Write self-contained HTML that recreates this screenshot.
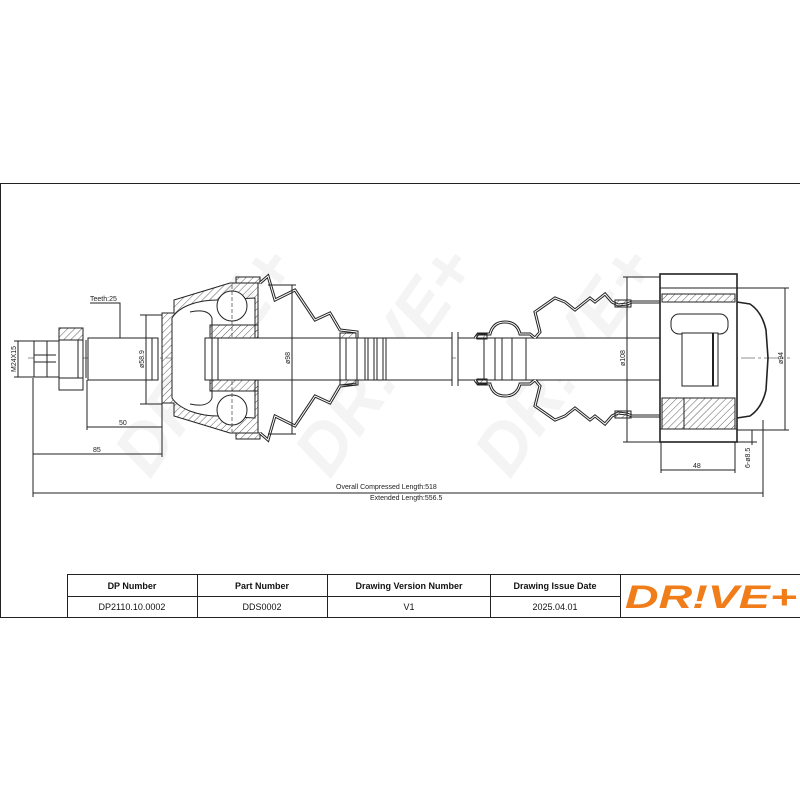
<!DOCTYPE html>
<html><head><meta charset="utf-8"><style>
body{margin:0;background:#fff;width:800px;height:800px;overflow:hidden;font-family:"Liberation Sans",sans-serif}
</style></head><body>
<svg width="800" height="800" viewBox="0 0 800 800" xmlns="http://www.w3.org/2000/svg">
<defs>
<pattern id="h" width="5" height="5" patternUnits="userSpaceOnUse" patternTransform="rotate(45)">
<line x1="0" y1="0" x2="0" y2="5" stroke="#333" stroke-width="0.8"/></pattern>
</defs>
<rect x="0.5" y="183.5" width="800" height="434" fill="#fff" stroke="#222" stroke-width="1"/>
<!-- watermarks -->
<g fill="#f4f4f4" font-size="70" font-weight="bold" font-style="italic">
<text transform="translate(150,480) rotate(-55)">DR!VE+</text>
<text transform="translate(330,480) rotate(-55)">DR!VE+</text>
<text transform="translate(510,480) rotate(-55)">DR!VE+</text>
</g>
<g stroke="#222" stroke-width="1" fill="none">
<line x1="28" y1="358" x2="790" y2="358" stroke-dasharray="14,3,3,3" stroke-width="0.6"/>
<rect x="34" y="341" width="13" height="36" fill="#fff"/>
<rect x="47" y="341" width="12" height="36" fill="#fff"/>
<line x1="34" y1="355" x2="56" y2="355"/><line x1="34" y1="362" x2="56" y2="362"/>
<rect x="59" y="328" width="24" height="12" fill="url(#h)"/>
<rect x="59" y="340" width="24" height="38" fill="#fff"/>
<rect x="59" y="378" width="24" height="12" fill="#fff"/>
<line x1="78" y1="340" x2="78" y2="378"/>
<line x1="86" y1="340" x2="86" y2="378"/>
<rect x="88" y="338" width="70" height="42" fill="#fff"/>
<line x1="152" y1="338" x2="152" y2="380"/>
<path d="M162,313 L174,313 L174,300 L230,283 L258,283 L258,433 L230,433 L174,416 L174,403 L162,403 Z" fill="url(#h)"/>
<path d="M172,318 C180,305 200,300 218,300 L255,298 L255,418 L218,416 C200,416 180,410 172,398 Z" fill="#fff"/>
<path d="M190,312 Q208,308 212,318 L212,398 Q208,408 190,404" fill="#fff"/>
<rect x="210" y="325" width="48" height="20" fill="url(#h)"/>
<rect x="210" y="371" width="48" height="20" fill="url(#h)"/>
<circle cx="232" cy="306" r="15" fill="#fff"/>
<circle cx="232" cy="410" r="15" fill="#fff"/>
<line x1="232" y1="285" x2="232" y2="432" stroke-dasharray="4,2" stroke-width="0.6"/>
<rect x="205" y="338" width="135" height="42" fill="#fff"/>
<rect x="212" y="338" width="6" height="42" fill="#fff"/>
<rect x="236" y="277" width="24" height="6" fill="url(#h)"/>
<rect x="236" y="433" width="24" height="6" fill="url(#h)"/>
<g stroke-width="3"><path d="M260,283 L268,276 L275,300 L295,290 L315,320 L330,313 L340,330 L357,332 L357,338"/>
<path d="M260,433 L268,440 L275,416 L295,426 L315,396 L330,403 L340,386 L357,384 L357,380"/></g>
<g stroke="#fff" stroke-width="1"><path d="M260,283 L268,276 L275,300 L295,290 L315,320 L330,313 L340,330 L357,332 L357,338"/>
<path d="M260,433 L268,440 L275,416 L295,426 L315,396 L330,403 L340,386 L357,384 L357,380"/></g>
<rect x="340" y="333" width="16" height="6" fill="url(#h)"/>
<rect x="340" y="379" width="16" height="6" fill="url(#h)"/>
<rect x="340" y="338" width="112" height="42" fill="#fff"/>
<line x1="346" y1="338" x2="346" y2="380"/><line x1="357" y1="338" x2="357" y2="380"/>
<line x1="365" y1="338" x2="365" y2="380"/><line x1="368" y1="338" x2="368" y2="380"/>
<line x1="374" y1="338" x2="374" y2="380"/><line x1="377" y1="338" x2="377" y2="380"/>
<line x1="383" y1="338" x2="383" y2="380"/><line x1="386" y1="338" x2="386" y2="380"/>
<line x1="452" y1="332" x2="452" y2="386"/><line x1="458" y1="332" x2="458" y2="386"/>
<rect x="458" y="338" width="240" height="42" fill="#fff"/>
<g stroke-width="3"><path d="M475,338 L478,334 L490,334 Q493,322 505,322 Q517,322 520,334 L530,334 L535,338"/>
<path d="M475,380 L478,384 L490,384 Q493,396 505,396 Q517,396 520,384 L530,384 L535,380"/>
<path d="M535,338 L540,332 L535,312 L555,298 L565,302 L575,310 L590,298 L595,302 L605,294 L612,302 L618,305 L627,304 L632,302 L660,302"/>
<path d="M535,380 L540,386 L535,406 L555,420 L565,416 L575,408 L590,420 L595,416 L605,424 L612,416 L618,413 L627,414 L632,416 L660,416"/></g>
<g stroke="#fff" stroke-width="1"><path d="M475,338 L478,334 L490,334 Q493,322 505,322 Q517,322 520,334 L530,334 L535,338"/>
<path d="M475,380 L478,384 L490,384 Q493,396 505,396 Q517,396 520,384 L530,384 L535,380"/>
<path d="M535,338 L540,332 L535,312 L555,298 L565,302 L575,310 L590,298 L595,302 L605,294 L612,302 L618,305 L627,304 L632,302 L660,302"/>
<path d="M535,380 L540,386 L535,406 L555,420 L565,416 L575,408 L590,420 L595,416 L605,424 L612,416 L618,413 L627,414 L632,416 L660,416"/></g>
<rect x="477" y="334" width="10" height="5" fill="url(#h)"/><rect x="477" y="379" width="10" height="5" fill="url(#h)"/>
<line x1="484" y1="338" x2="484" y2="380"/><line x1="495" y1="338" x2="495" y2="380"/>
<line x1="502" y1="338" x2="502" y2="380"/><line x1="512" y1="338" x2="512" y2="380"/>
<line x1="526" y1="338" x2="526" y2="380"/>
<rect x="615" y="300" width="16" height="7" fill="url(#h)"/><rect x="615" y="411" width="16" height="7" fill="url(#h)"/>
<rect x="660" y="274" width="77" height="168" fill="#fff" stroke-width="1.6"/>
<line x1="660" y1="288" x2="737" y2="288"/><line x1="660" y1="429" x2="737" y2="429"/>
<rect x="662" y="294" width="73" height="8" fill="url(#h)"/>
<rect x="684" y="398" width="51" height="31" fill="url(#h)"/>
<rect x="662" y="398" width="22" height="31" fill="url(#h)"/>
<path d="M737,302 L750,304 Q762,312 766,330 L768,358 L766,390 Q762,408 750,416 L737,418" stroke-width="1.6"/>
<rect x="671" y="314" width="57" height="20" rx="8" fill="#fff"/>
<rect x="682" y="333" width="36" height="53" fill="#fff"/>
<line x1="713" y1="333" x2="713" y2="386" stroke-width="2"/>
<line x1="146" y1="315" x2="146" y2="404"/><line x1="140" y1="315" x2="162" y2="315"/><line x1="140" y1="404" x2="162" y2="404"/>
<line x1="292" y1="285" x2="292" y2="434"/><line x1="268" y1="285" x2="296" y2="285"/><line x1="268" y1="434" x2="296" y2="434"/>
<line x1="627" y1="277" x2="627" y2="442"/><line x1="623" y1="277" x2="660" y2="277"/><line x1="623" y1="442" x2="660" y2="442"/>
<line x1="785" y1="288" x2="785" y2="430"/><line x1="737" y1="288" x2="789" y2="288"/><line x1="737" y1="430" x2="789" y2="430"/>
<line x1="18" y1="341" x2="18" y2="377"/><line x1="14" y1="341" x2="34" y2="341"/><line x1="14" y1="377" x2="34" y2="377"/>
<line x1="87" y1="380" x2="87" y2="430"/><line x1="162" y1="403" x2="162" y2="457"/>
<line x1="87" y1="427" x2="162" y2="427"/>
<line x1="33" y1="378" x2="33" y2="497"/><line x1="33" y1="454" x2="162" y2="454"/>
<line x1="763" y1="420" x2="763" y2="497"/><line x1="33" y1="493" x2="763" y2="493"/>
<line x1="661" y1="442" x2="661" y2="473"/><line x1="735" y1="442" x2="735" y2="473"/><line x1="661" y1="470" x2="735" y2="470"/>
<line x1="752" y1="430" x2="752" y2="445"/><line x1="737" y1="442" x2="757" y2="442"/>
<polyline points="90,303 120,303 120,338"/>
</g>
<g font-size="7" fill="#222" font-family="Liberation Sans, sans-serif">
<text x="90" y="301">Teeth:25</text>
<text x="119" y="425">50</text>
<text x="93" y="452">85</text>
<text x="336" y="489">Overall  Compressed  Length:518</text>
<text x="370" y="500">Extended  Length:556.5</text>
<text x="693" y="468">48</text>
<text transform="translate(16,372) rotate(-90)">M24X15</text>
<text transform="translate(144,368) rotate(-90)">ø58.9</text>
<text transform="translate(290,364) rotate(-90)">ø98</text>
<text transform="translate(625,366) rotate(-90)">ø108</text>
<text transform="translate(783,364) rotate(-90)">ø94</text>
<text transform="translate(750,468) rotate(-90)">6-ø8.5</text>
</g>
<g stroke="#222" stroke-width="1" fill="none">
<rect x="67.5" y="574.5" width="733" height="43"/>
<line x1="67" y1="596.5" x2="620" y2="596.5"/>
<line x1="197.5" y1="574" x2="197.5" y2="617"/>
<line x1="327.5" y1="574" x2="327.5" y2="617"/>
<line x1="490.5" y1="574" x2="490.5" y2="617"/>
<line x1="620.5" y1="574" x2="620.5" y2="617"/>
</g>
<g font-size="9" fill="#111" text-anchor="middle">
<text x="132" y="589" font-weight="bold">DP Number</text>
<text x="262" y="589" font-weight="bold">Part Number</text>
<text x="409" y="589" font-weight="bold">Drawing Version Number</text>
<text x="555" y="589" font-weight="bold">Drawing Issue Date</text>
<text x="132" y="610">DP2110.10.0002</text>
<text x="262" y="610">DDS0002</text>
<text x="409" y="610">V1</text>
<text x="555" y="610">2025.04.01</text>
</g>
<text x="711" y="608" text-anchor="middle" font-size="32" font-weight="bold" font-style="italic" fill="#f07d1a" textLength="172" lengthAdjust="spacingAndGlyphs">DR!VE+</text>
</svg>
</body></html>
